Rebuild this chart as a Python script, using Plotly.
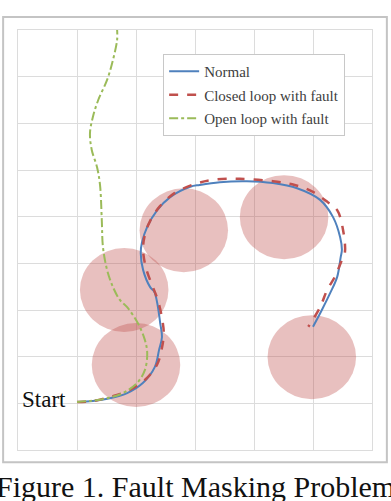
import plotly.graph_objects as go

# ---- data (grid units: x 0..6, y 0..9) ----
normal_x = [1.00, 1.27, 1.56, 1.85, 2.12, 2.32, 2.39, 2.44, 2.41, 2.36, 2.31, 2.24, 2.12, 2.08, 2.10, 2.19, 2.36, 2.58, 2.92, 3.08, 3.42, 3.88, 4.32, 4.73, 5.12, 5.34, 5.46, 5.49, 5.47, 5.41, 5.29, 5.15, 5.00]
normal_y = [1.03, 1.05, 1.11, 1.22, 1.44, 1.78, 2.14, 2.42, 2.72, 3.15, 3.39, 3.49, 3.86, 4.22, 4.44, 4.78, 5.14, 5.42, 5.64, 5.68, 5.74, 5.76, 5.72, 5.61, 5.36, 4.99, 4.56, 4.29, 4.14, 3.71, 3.36, 3.00, 2.64]

closed_x = [1.00, 1.27, 1.56, 1.85, 2.15, 2.36, 2.44, 2.47, 2.44, 2.37, 2.27, 2.17, 2.12, 2.15, 2.24, 2.41, 2.66, 3.00, 3.31, 3.76, 4.32, 4.69, 5.00, 5.25, 5.41, 5.51, 5.54, 5.49, 5.37, 5.24, 5.12, 4.92]
closed_y = [1.03, 1.05, 1.14, 1.26, 1.50, 1.84, 2.19, 2.51, 2.83, 3.21, 3.54, 3.90, 4.29, 4.61, 4.91, 5.23, 5.51, 5.70, 5.79, 5.81, 5.76, 5.68, 5.53, 5.31, 5.14, 4.71, 4.22, 4.07, 3.71, 3.43, 3.06, 2.64]

open_x = [1.00, 1.22, 1.51, 1.78, 2.02, 2.15, 2.19, 2.15, 2.03, 1.85, 1.73, 1.61, 1.51, 1.44, 1.42, 1.39, 1.34, 1.25, 1.22, 1.27, 1.36, 1.51, 1.61, 1.68, 1.68]
open_y = [1.03, 1.05, 1.11, 1.22, 1.44, 1.71, 2.08, 2.36, 2.72, 3.06, 3.21, 3.49, 3.86, 4.35, 4.93, 5.68, 6.06, 6.43, 6.79, 7.14, 7.50, 7.93, 8.36, 8.79, 9.00]

circle_cx = [2.00, 1.80, 2.81, 4.51, 4.98]
circle_cy = [1.82, 3.43, 4.71, 4.99, 1.99]
circle_rx = 0.75
circle_ry = 0.90

series_names = ["Normal", "Closed loop with fault", "Open loop with fault"]
caption = "Figure 1. Fault Masking Problem"
start_label = "Start"

serif = "Liberation Serif, Times New Roman, serif"

fig = go.Figure()
fig.add_trace(go.Scatter(x=normal_x, y=normal_y, mode="lines", name=series_names[0], legendgroup="a",
                         line=dict(color="#4F81BD", width=2, shape="spline")))
fig.add_trace(go.Scatter(x=closed_x, y=closed_y, mode="lines", name=series_names[1], legendgroup="b",
                         line=dict(color="#C0504D", width=2.5, dash="dash", shape="spline")))
fig.add_trace(go.Scatter(x=open_x, y=open_y, mode="lines", name=series_names[2], legendgroup="c",
                         line=dict(color="#9BBB59", width=2, dash="dashdot", shape="spline")))

shapes = []
for cx, cy in zip(circle_cx, circle_cy):
    shapes.append(dict(type="circle", xref="x", yref="y",
                       x0=cx - circle_rx, x1=cx + circle_rx,
                       y0=cy - circle_ry, y1=cy + circle_ry,
                       fillcolor="rgba(192,80,77,0.36)", line=dict(width=0), layer="between"))
# outer figure frame
shapes.append(dict(type="rect", xref="paper", yref="paper",
                   x0=-0.042, x1=1.042, y0=-0.029, y1=1.031,
                   line=dict(color="#c4c4c4", width=2), fillcolor="rgba(0,0,0,0)", layer="below"))

fig.update_layout(
    width=391, height=501,
    margin=dict(l=18, r=19, t=30, b=51),
    paper_bgcolor="white", plot_bgcolor="white",
    shapes=shapes,
    showlegend=True,
    legend=dict(x=0.41, y=0.943, xanchor="left", yanchor="top",
                bgcolor="white", bordercolor="#c8c8c8", borderwidth=1,
                font=dict(family=serif, size=15, color="#404040"),
                itemwidth=30, tracegroupgap=1, entrywidth=196, entrywidthmode="pixels"),
    annotations=[
        dict(x=normal_x[0], y=normal_y[0], xref="x", yref="y", text=start_label,
             showarrow=False, xanchor="right", yanchor="middle", xshift=-9, yshift=2,
             font=dict(family=serif, size=23, color="#111")),
        dict(x=0.501, y=-0.088, xref="paper", yref="paper", text=caption,
             showarrow=False, xanchor="center", yanchor="middle",
             font=dict(family=serif, size=30, color="#111")),
    ],
)
fig.update_xaxes(range=[0, 6], dtick=1, showgrid=True, gridcolor="#dcdcdc", gridwidth=1,
                 showticklabels=False, zeroline=False, showline=True, linecolor="#dcdcdc",
                 mirror=True, ticks="")
fig.update_yaxes(range=[0, 9], dtick=1, showgrid=True, gridcolor="#dcdcdc", gridwidth=1,
                 showticklabels=False, zeroline=False, showline=True, linecolor="#dcdcdc",
                 mirror=True, ticks="")

fig.write_html("out.html")
